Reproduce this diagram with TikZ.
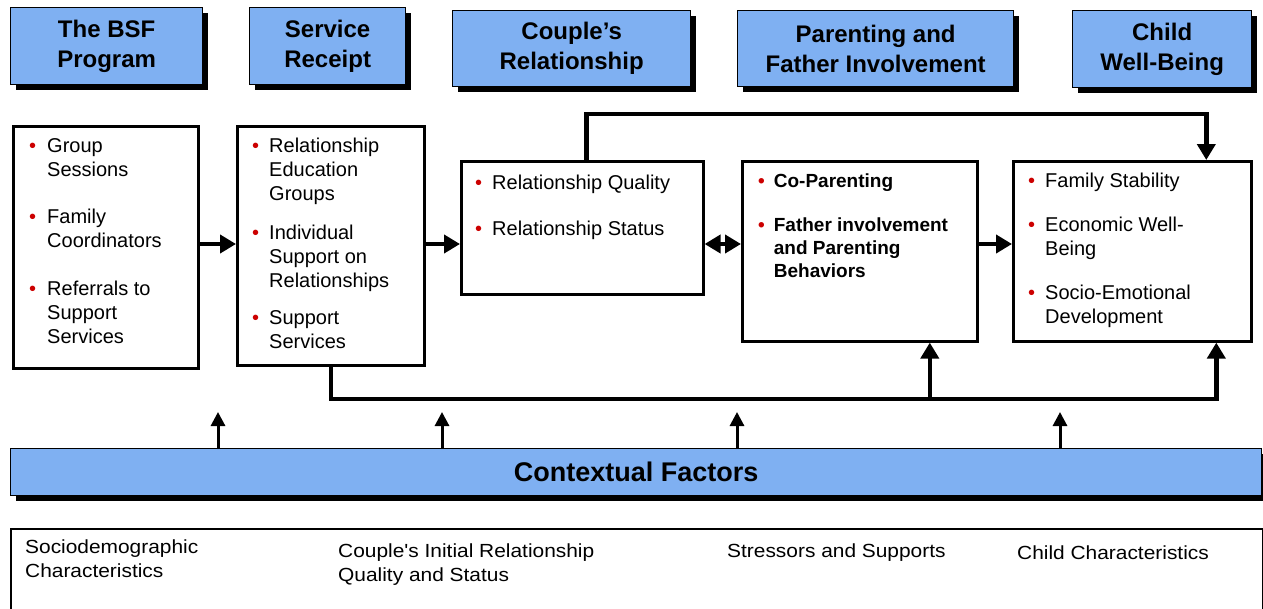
\documentclass[tikz,border=0pt]{standalone}
\usepackage{fontspec}
\setmainfont{Liberation Sans}
\newfontfamily\widefont[FakeStretch=1.1]{Liberation Sans}
\usetikzlibrary{arrows.meta,shadows}

\definecolor{hdrblue}{RGB}{127,176,242}
\definecolor{bulletred}{RGB}{204,0,0}
\newcommand{\blt}{\textcolor{bulletred}{\textbullet}}

\begin{document}
\begin{tikzpicture}[x=1pt, y=-1pt,
    hdr/.style={draw=black, line width=1.3pt, fill=hdrblue, anchor=north west, align=center,
      font=\bfseries\fontsize{24}{30}\selectfont,
      drop shadow={shadow xshift=5pt, shadow yshift=-5pt, fill=black, opacity=1}},
    box/.style={draw=black, line width=2.6pt, anchor=north west, inner sep=0pt},
    txt/.style={anchor=north west, inner sep=0pt, font=\fontsize{20}{24}\selectfont},
    ctxtxt/.style={anchor=north west, inner sep=0pt, align=left, font=\widefont\fontsize{19}{24}\selectfont},
    link/.style={line width=4.5pt, -{Triangle[length=16pt,width=18pt]}},
    ctxarrow/.style={line width=3pt, -{Triangle[length=14pt,width=14pt]}}]
    \useasboundingbox (0,0) rectangle (1263,608);

    % column headers
    \node[hdr, minimum width=192pt, minimum height=77pt] (hBSF) at (10,7) {The BSF\\Program};
    \node[hdr, minimum width=156pt, minimum height=77pt] (hSrv) at (249,7) {Service\\Receipt};
    \node[hdr, minimum width=238pt, minimum height=76pt] (hCpl) at (452,10) {Couple's\\Relationship};
    \node[hdr, minimum width=276pt, minimum height=76pt] (hPar) at (737,10) {Parenting and\\Father Involvement};
    \node[hdr, minimum width=179pt, minimum height=77pt] (hChd) at (1072,10) {Child\\Well-Being};

    % content boxes
    \node[box, minimum width=185pt, minimum height=242pt] (bsf) at (12,125) {};
    \node[box, minimum width=187pt, minimum height=239pt] (srv) at (236,125) {};
    \node[box, minimum width=242pt, minimum height=133pt] (rel) at (460,160) {};
    \node[box, minimum width=235pt, minimum height=180pt] (par) at (741,160) {};
    \node[box, minimum width=238pt, minimum height=180pt] (chd) at (1012,160) {};

    \node[txt] (bsfTxt) at ([shift={(17,10)}]bsf.north west) {%
      \begin{tabular}{@{}l@{\hspace{11pt}}l@{}}
        \blt & Group\\ & Sessions\\[23pt]
        \blt & Family\\ & Coordinators\\[24pt]
        \blt & Referrals to\\ & Support\\ & Services
      \end{tabular}};
    \node[txt] (srvTxt) at ([shift={(16,10)}]srv.north west) {%
      \begin{tabular}{@{}l@{\hspace{10pt}}l@{}}
        \blt & Relationship\\ & Education\\ & Groups\\[15pt]
        \blt & Individual\\ & Support on\\ & Relationships\\[13pt]
        \blt & Support\\ & Services
      \end{tabular}};
    \node[txt] (relTxt) at ([shift={(15,12)}]rel.north west) {%
      \begin{tabular}{@{}l@{\hspace{10pt}}l@{}}
        \blt & Relationship Quality\\[22pt]
        \blt & Relationship Status
      \end{tabular}};
    \node[txt, font=\bfseries\fontsize{19}{23}\selectfont] (parTxt) at ([shift={(17,11)}]par.north west) {%
      \begin{tabular}{@{}l@{\hspace{9pt}}l@{}}
        \blt & Co-Parenting\\[21pt]
        \blt & Father involvement\\ & and Parenting\\ & Behaviors
      \end{tabular}};
    \node[txt] (chdTxt) at ([shift={(16,10)}]chd.north west) {%
      \begin{tabular}{@{}l@{\hspace{10pt}}l@{}}
        \blt & Family Stability\\[20pt]
        \blt & Economic Well-\\ & Being\\[20pt]
        \blt & Socio-Emotional\\ & Development
      \end{tabular}};

    % contextual factors
    \node[hdr, font=\bfseries\fontsize{27}{30}\selectfont, minimum width=1251pt, minimum height=47pt] (ctx) at (10,448) {Contextual Factors};
    \node[box, line width=1.6pt, minimum width=1252pt, minimum height=90pt] (base) at (10,528) {};
    \node[ctxtxt] (socio) at (25,540) {Sociodemographic\\Characteristics};
    \node[ctxtxt] (initial) at (338,544) {Couple's Initial Relationship\\Quality and Status};
    \node[ctxtxt] (stress) at (727,544) {Stressors and Supports};
    \node[ctxtxt] (child) at (1017,546) {Child Characteristics};

    % connectors
    \coordinate (mid) at (0,244);
    \coordinate (bus) at (0,399);
    \draw[link] (bsf.east |- mid) -- (srv.west |- mid);
    \draw[link] (srv.east |- mid) -- (rel.west |- mid);
    \draw[link, {Triangle[length=16pt,width=18pt]}-{Triangle[length=16pt,width=18pt]}] (rel.east |- mid) -- (par.west |- mid);
    \draw[link] (par.east |- mid) -- (chd.west |- mid);
    \draw[link] ([xshift=4pt]rel.north) -- ++(0,-46) -| ([xshift=74pt]chd.north);
    \draw[link] (srv.south) |- (bus -| chd.south) -| ([xshift=84pt]chd.south);
    \draw[link] ([xshift=70pt]par.south |- bus) -- ([xshift=70pt]par.south);
    \foreach \x in {218,442,737,1060}
        \draw[ctxarrow] (ctx.north -| \x,0) -- ++(0,-36);
\end{tikzpicture}
\end{document}
